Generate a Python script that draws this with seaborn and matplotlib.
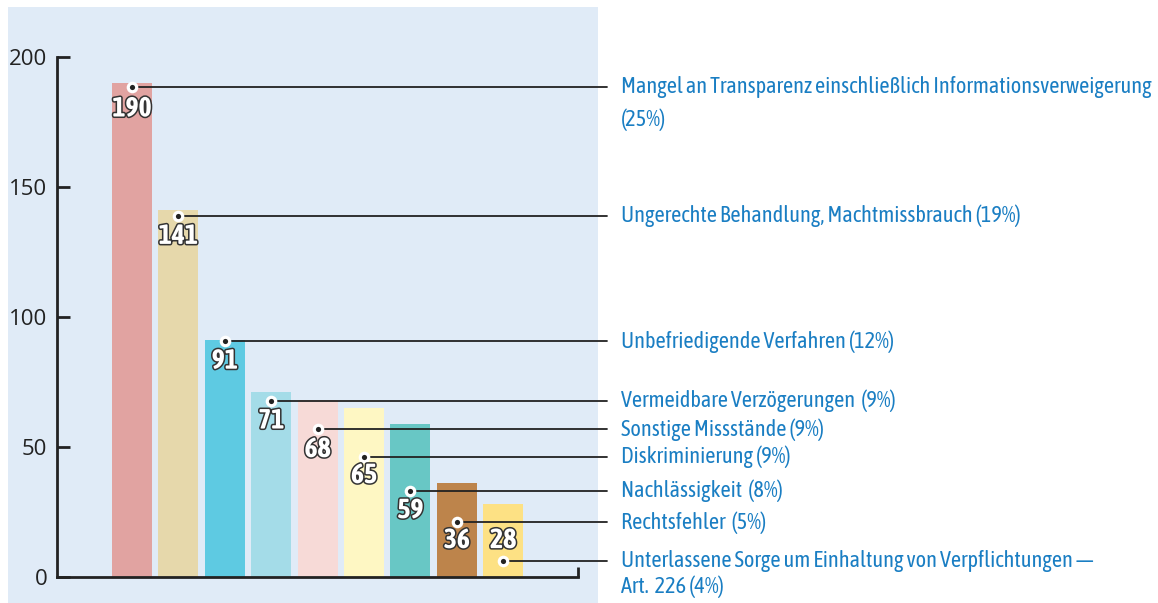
import matplotlib
matplotlib.use("Agg")
import matplotlib.pyplot as plt
import matplotlib.patheffects as pe
import seaborn as sns
import pandas as pd

# data
categories = [
    "Mangel an Transparenz einschließlich Informationsverweigerung",
    "Ungerechte Behandlung, Machtmissbrauch",
    "Unbefriedigende Verfahren",
    "Vermeidbare Verzögerungen",
    "Sonstige Missstände",
    "Diskriminierung",
    "Nachlässigkeit",
    "Rechtsfehler",
    "Unterlassene Sorge um Einhaltung von Verpflichtungen —\nArt.  226",
]
values = [190, 141, 91, 71, 68, 65, 59, 36, 28]
shares = ["(25%)", "(19%)", "(12%)", " (9%)", "(9%)", "(9%)", " (8%)", " (5%)", "(4%)"]
colors = ["#e1a3a1", "#e6d8ab", "#5ecae2", "#a4dce8", "#f7dad7",
          "#fef7c3", "#68c7c5", "#bd844b", "#fde184"]

# layout of the leader lines / labels (data units)
dot_y = [188.5, 139, 90.6, 67.7, 56.8, 46.2, 33.1, 21, 6.3]
num_y = [180, 131, 83, 60, 49, 39, 25.5, 14, 14]

narrow = ["Asap Condensed", "Liberation Sans", "DejaVu Sans"]
blue = "#1a7ec3"
dark = "#222222"

sns.set_theme(style="white")
plt.rcParams["font.family"] = ["Open Sans", "Liberation Sans", "DejaVu Sans"]

fig = plt.figure(figsize=(11.58, 6.03), dpi=100)
ax = fig.add_axes([8 / 1158, 0, 590 / 1158, 596 / 603])
ax.set_facecolor("#e0ebf7")

df = pd.DataFrame({"cat": range(len(values)), "val": values})
sns.barplot(data=df, x="cat", y="val", hue="cat", palette=colors,
            width=0.86, legend=False, ax=ax, saturation=1, native_scale=True,
            linewidth=0)

px = 46.4
ax.set_xlim((8 - 132) / px, (598 - 132) / px)
ax.set_ylim((577 - 603) / 2.6, (577 - 7) / 2.6)
x_axis = (57 - 132) / px
x_end = (578 - 132) / px

for s in ["top", "right"]:
    ax.spines[s].set_visible(False)
ax.spines["left"].set_position(("data", x_axis))
ax.spines["left"].set_bounds(0, 200)
ax.spines["bottom"].set_position(("data", 0))
ax.spines["bottom"].set_bounds(x_axis, x_end)
for s in ["left", "bottom"]:
    ax.spines[s].set_color(dark)
    ax.spines[s].set_linewidth(2)
ax.plot([x_end, x_end], [0, 4], color=dark, lw=2, solid_capstyle="butt")

ax.set_yticks([0, 50, 100, 150, 200])
ax.set_xticks([])
ax.tick_params(axis="y", direction="in", length=9.5, width=2, color=dark,
               labelsize=16, pad=7, labelcolor="#222222", left=True)
ax.set_xlabel("")
ax.set_ylabel("")

line_end = (607 - 132) / px
text_x = (621 - 132) / px
fs = 16
for i, v in enumerate(values):
    ax.plot([i, line_end], [dot_y[i], dot_y[i]], color=dark, lw=1.3,
            clip_on=False, zorder=3)
    ax.scatter([i], [dot_y[i]], s=70, color="white", linewidths=0, zorder=4, clip_on=False)
    ax.scatter([i], [dot_y[i]], s=14, color=dark, linewidths=0, zorder=5, clip_on=False)
    ax.text(i, num_y[i], str(v), ha="center", va="center", fontsize=20,
            fontweight="bold", family=narrow, color="white", zorder=6,
            path_effects=[pe.withStroke(linewidth=2.2, foreground="#333333")])
    lines = categories[i].split("\n")
    if i == 0:
        ax.text(text_x, dot_y[i], lines[0], ha="left", va="center",
                fontsize=fs, family=narrow, color=blue, clip_on=False)
        ax.text(text_x, dot_y[i] - 12.7, shares[i], ha="left", va="center",
                fontsize=fs, family=narrow, color=blue, clip_on=False)
    elif len(lines) == 2:
        ax.text(text_x, dot_y[i], lines[0], ha="left", va="center",
                fontsize=fs, family=narrow, color=blue, clip_on=False)
        ax.text(text_x, dot_y[i] - 10, lines[1] + " " + shares[i], ha="left",
                va="center", fontsize=fs, family=narrow, color=blue,
                clip_on=False)
    else:
        ax.text(text_x, dot_y[i], lines[0] + " " + shares[i], ha="left",
                va="center", fontsize=fs, family=narrow, color=blue,
                clip_on=False)

fig.savefig("out.png", dpi=100)
